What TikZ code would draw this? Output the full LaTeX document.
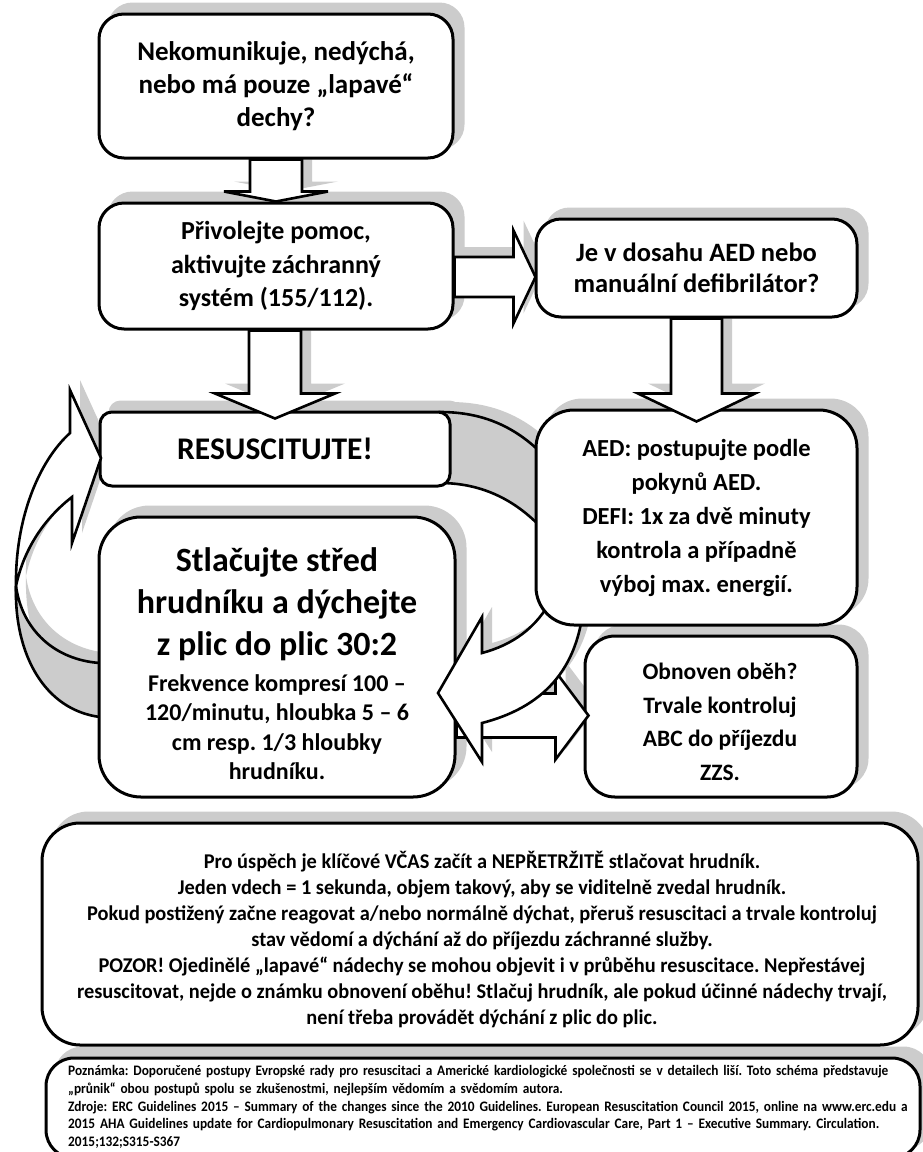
\documentclass[tikz,border=0pt]{standalone}
\usepackage{fontspec}
\setmainfont{Carlito}
\newfontfamily\notefont{Carlito}[FakeStretch=0.92]
\newfontfamily\bigfont{Carlito}[FakeStretch=0.97]
\usetikzlibrary{calc}
\frenchspacing
\pgfdeclarelayer{bglayer}
\pgfdeclarelayer{shadowlayer}
\pgfsetlayers{bglayer,shadowlayer,main}
\definecolor{shadowgray}{RGB}{204,204,204}
\colorlet{backgray}{shadowgray}
\tikzset{
  box/.style={draw=black, line width=3pt, fill=white, align=center, inner sep=0pt, text=black},
  blockarrow/.style={draw=black, line width=2.6pt, fill=white, line join=miter},
  backband/.style={draw=black, line width=2.6pt, fill=backgray},
  shadowfill/.style={fill=shadowgray, draw=none},
}
% vertical block arrow: #1 source anchor, #2 tip, #3 half shaft, #4 half head, #5 head length
\newcommand{\vblockarrow}[5]{%
  \begin{pgfonlayer}{shadowlayer}
  \fill[shadowfill] let \p1=(#1), \p2=(#2) in
    (\x2-#3+10pt,\y1) -- (\x2-#3+10pt,\y2+#5+10pt) -- (\x2-#4+10pt,\y2+#5+10pt) -- (\x2+10pt,\y2+10pt)
    -- (\x2+#4+10pt,\y2+#5+10pt) -- (\x2+#3+10pt,\y2+#5+10pt) -- (\x2+#3+10pt,\y1) -- cycle;
  \end{pgfonlayer}
  \draw[blockarrow] let \p1=(#1), \p2=(#2) in
    (\x2-#3,\y1) -- (\x2-#3,\y2+#5) -- (\x2-#4,\y2+#5) -- (\x2,\y2) -- (\x2+#4,\y2+#5) -- (\x2+#3,\y2+#5) -- (\x2+#3,\y1) -- cycle;}
% horizontal block arrow pointing right
\newcommand{\hblockarrow}[5]{%
  \begin{pgfonlayer}{shadowlayer}
  \fill[shadowfill] let \p1=(#1), \p2=(#2) in
    (\x1,\y2+#3+10pt) -- (\x2-#5+10pt,\y2+#3+10pt) -- (\x2-#5+10pt,\y2+#4+10pt) -- (\x2+10pt,\y2+10pt)
    -- (\x2-#5+10pt,\y2-#4+10pt) -- (\x2-#5+10pt,\y2-#3+10pt) -- (\x1,\y2-#3+10pt) -- cycle;
  \end{pgfonlayer}
  \draw[blockarrow] let \p1=(#1), \p2=(#2) in
    (\x1,\y2+#3) -- (\x2-#5,\y2+#3) -- (\x2-#5,\y2+#4) -- (\x2,\y2) -- (\x2-#5,\y2-#4) -- (\x2-#5,\y2-#3) -- (\x1,\y2-#3) -- cycle;}
\def\CoBack{(440,412) .. controls (482,412) and (517,426) .. (548,460) -- (548,535) .. controls (518,500) and (482,483) .. (440,483) -- cycle}
\def\CoFront{(552,598) .. controls (537,628) and (512,645) .. (482,653) -- (482,617) -- (438,693) -- (482,762) -- (482,723) .. controls (540,708) and (580,672) .. (584,598) -- cycle}
\def\CtBack{(106,717) -- (100,717) .. controls (45,710) and (14,655) .. (16,586) .. controls (22,630) and (55,660) .. (100,663) -- (106,663) -- cycle}
\def\CtFront{(16,586) .. controls (15,520) and (38,462) .. (70,433) -- (70,390) -- (101,458) -- (72,543) -- (72,497) .. controls (45,518) and (24,548) .. (16,586) -- cycle}
\begin{document}
\begin{tikzpicture}[x=1pt,y=-1pt]
\begin{pgfonlayer}{bglayer}
\fill[white] (0,0) rectangle (923,1152);
\end{pgfonlayer}
\useasboundingbox (0,0) rectangle (923,1152);

% back (rear) parts of the curved arrows
\begin{pgfonlayer}{shadowlayer}
\fill[shadowfill, shift={(10,-10)}] \CoBack;
\fill[shadowfill, shift={(10,-10)}] \CtBack;
\end{pgfonlayer}
\draw[backband] \CoBack;
\draw[backband] \CtBack;

% boxes
\node[box, font=\bfseries\fontsize{27}{33}\selectfont, minimum width=354pt, minimum height=144pt, rounded corners=25pt] (q1) at (276,86)
  {Nekomunikuje, nedýchá,\\nebo má pouze „lapavé“\\dechy?};
\node[box, font=\bfseries\fontsize{26}{33.5}\selectfont, minimum width=354pt, minimum height=126pt, rounded corners=25pt] (q2) at (276,266)
  {Přivolejte pomoc,\\aktivujte záchranný\\systém (155/112).};
\node[box, font=\bfseries\fontsize{26.5}{31.5}\selectfont, minimum width=321pt, minimum height=98pt, rounded corners=25pt] (aedq) at (696.5,268)
  {Je v dosahu AED nebo\\manuální defibrilátor?};
\node[box, font=\bfseries\fontsize{31.5}{38}\selectfont, minimum width=350pt, minimum height=74pt, rounded corners=12pt] (res) at (275,449)
  {RESUSCITUJTE!};
\node[box, minimum width=356pt, minimum height=280pt, rounded corners=42pt] (stl) at (277,657) {};
\node[align=center, inner sep=0pt, font=\bfseries\fontsize{34}{42}\selectfont] (stla) at (277,604)
  {Stlačujte střed\\hrudníku a dýchejte\\z plic do plic 30:2};
\node[align=center, inner sep=0pt, font=\bfseries\fontsize{24}{29.5}\selectfont] (stlb) at (277,727)
  {Frekvence kompresí 100 –\\120/minutu, hloubka 5 – 6\\cm resp. 1/3 hloubky\\hrudníku.};
\node[box, minimum width=272pt, minimum height=161pt, rounded corners=30pt] (obn) at (721,716.5) {};
\node[align=center, inner sep=0pt, font=\bfseries\fontsize{23.5}{33.5}\selectfont] (obntext) at (720,722)
  {Obnoven oběh?\\Trvale kontroluj\\ABC do příjezdu\\ZZS.};
\node[box, minimum width=876pt, minimum height=222pt, rounded corners=38pt] (big) at (480,934) {};
\node[align=center, inner sep=0pt, font=\bigfont\bfseries\fontsize{21}{26}\selectfont] (bigtext) at (482,940)
  {Pro úspěch je klíčové VČAS začít a NEPŘETRŽITĚ stlačovat hrudník.\\
   Jeden vdech = 1 sekunda, objem takový, aby se viditelně zvedal hrudník.\\
   Pokud postižený začne reagovat a/nebo normálně dýchat, přeruš resuscitaci a trvale kontroluj\\
   stav vědomí a dýchání až do příjezdu záchranné služby.\\
   POZOR! Ojedinělé „lapavé“ nádechy se mohou objevit i v průběhu resuscitace. Nepřestávej\\
   resuscitovat, nejde o známku obnovení oběhu! Stlačuj hrudník, ale pokud účinné nádechy trvají,\\
   není třeba provádět dýchání z plic do plic.};
\node[box, minimum width=874pt, minimum height=100pt, rounded corners=28pt] (notes) at (483,1108) {};
\node[anchor=north west, inner sep=0pt, text width=844pt, align=left, font=\notefont\bfseries\fontsize{14.5}{17.8}\selectfont] (notetext) at (68,1065)
  {\mbox{Poznámka: Doporučené postupy Evropské rady pro resuscitaci a Americké kardiologické společnosti se v detailech liší. Toto schéma představuje}\\
   \mbox{„průnik“ obou postupů spolu se zkušenostmi, nejlepším vědomím a svědomím autora.}\\
   \makebox[\linewidth][s]{Zdroje: ERC Guidelines 2015 – Summary of the changes since the 2010 Guidelines. European Resuscitation Council 2015, online na www.erc.edu a}\\
   \makebox[\linewidth][s]{2015 AHA Guidelines update for Cardiopulmonary Resuscitation and Emergency Cardiovascular Care, Part 1 – Executive Summary. Circulation.}\\
   2015;132;S315-S367};

% straight block arrows
\vblockarrow{q1.south}{q2.north}{26pt}{52pt}{10pt}
\vblockarrow{q2.south}{$(res.north)+(0,8)$}{26pt}{60pt}{25pt}
\hblockarrow{q2.east}{$(aedq.west)+(1,9)$}{20pt}{46.5pt}{22pt}
\hblockarrow{stl.east}{$(obn.west)+(5,-1)$}{22pt}{44pt}{33pt}

% front part of the right curved arrow (AED -> compressions)
\begin{pgfonlayer}{shadowlayer}
\fill[shadowfill, shift={(10,-10)}] \CoFront;
\end{pgfonlayer}
\draw[blockarrow] \CoFront;

\node[box, font=\bfseries\fontsize{24.5}{34}\selectfont, minimum width=321pt, minimum height=215pt, rounded corners=38pt] (aed) at (696.5,517.5)
  {AED: postupujte podle\\pokynů AED.\\DEFI: 1x za dvě minuty\\kontrola a případně\\výboj max. energií.};

\vblockarrow{aedq.south}{$(aed.north)+(0,13)$}{25.5pt}{58.5pt}{28pt}

% front part of the left curved arrow (compressions -> resuscitate)
\begin{pgfonlayer}{shadowlayer}
\fill[shadowfill, shift={(10,-10)}] \CtFront;
\end{pgfonlayer}
\draw[blockarrow] \CtFront;

% shadows of the boxes
\begin{pgfonlayer}{shadowlayer}
\foreach \n/\r in {q1/25,q2/25,aedq/25,res/12,aed/38,stl/42,obn/30,big/38,notes/28}
  \fill[shadowfill, rounded corners=\r pt] ([shift={(10pt,10pt)}]\n.south west) rectangle ([shift={(10pt,10pt)}]\n.north east);
\end{pgfonlayer}
\end{tikzpicture}
\end{document}
